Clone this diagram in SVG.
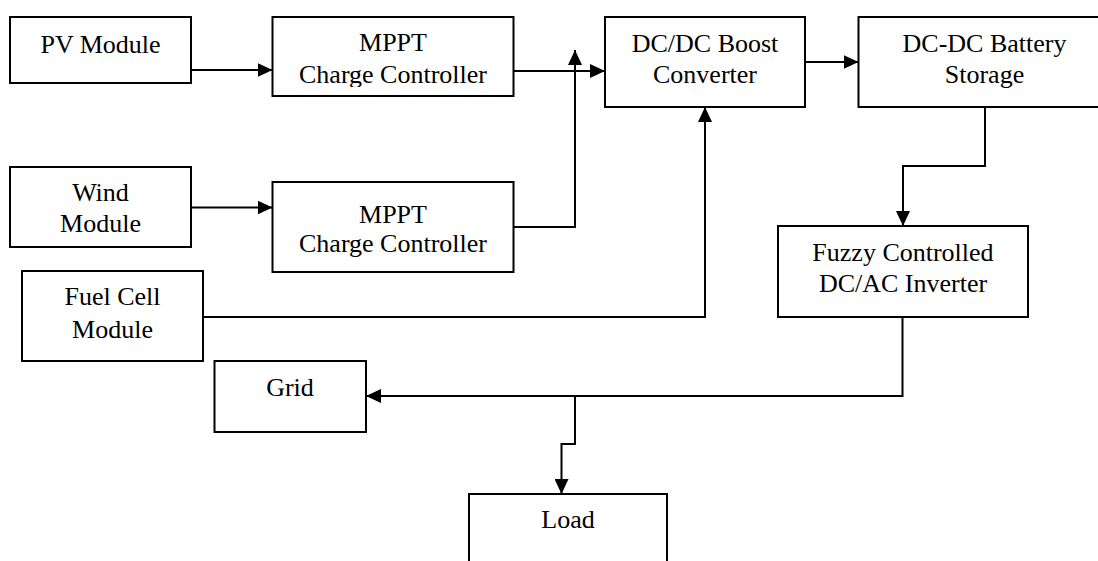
<svg xmlns="http://www.w3.org/2000/svg" width="1098" height="561" viewBox="0 0 1098 561">
<style>
.box{fill:#fff;stroke:#000;stroke-width:2}
.lbl{font-family:"Liberation Serif","Times New Roman",serif;font-size:26px;fill:#000;text-anchor:middle}
.con{fill:none;stroke:#000;stroke-width:2}
</style>
<defs>
<marker id="ah" markerUnits="userSpaceOnUse" markerWidth="15" markerHeight="14" refX="15" refY="7" orient="auto" viewBox="0 0 15 14">
<path d="M0,0 L15,7 L0,14 z" fill="#000"/>
</marker>
<clipPath id="clipM1"><rect x="272" y="17" width="242" height="70"/></clipPath>
</defs>
<rect x="0" y="0" width="1098" height="561" fill="#fff"/>
<g id="connectors">
<path class="con" d="M191,70 H272.5" marker-end="url(#ah)"/>
<path class="con" d="M191,207.5 H272.5" marker-end="url(#ah)"/>
<path class="con" d="M513.5,71 H605" marker-end="url(#ah)"/>
<path class="con" d="M513.5,227 H575 V50" marker-end="url(#ah)"/>
<path class="con" d="M203,317 H705 V107" marker-end="url(#ah)"/>
<path class="con" d="M805,62 H858.5" marker-end="url(#ah)"/>
<path class="con" d="M985,107 V166 H903 V226" marker-end="url(#ah)"/>
<path class="con" d="M902.5,317 V396 H366" marker-end="url(#ah)"/>
<path class="con" d="M575,396 V444 H561.5 V494" marker-end="url(#ah)"/>
</g>
<g id="pv">
<rect class="box" x="10" y="17" width="181" height="66"/>
<text class="lbl" x="100.5" y="52.5">PV Module</text>
</g>
<g id="mppt1">
<rect class="box" x="272.5" y="17" width="241" height="79"/>
<g clip-path="url(#clipM1)">
<text class="lbl" x="393" y="51">MPPT</text>
<text class="lbl" x="393" y="83">Charge Controller</text>
</g>
</g>
<g id="wind">
<rect class="box" x="10" y="167" width="181" height="80"/>
<text class="lbl" x="100.5" y="201">Wind</text>
<text class="lbl" x="100.5" y="231.5">Module</text>
</g>
<g id="mppt2">
<rect class="box" x="272.5" y="182" width="241" height="90"/>
<text class="lbl" x="393" y="223">MPPT</text>
<text class="lbl" x="393" y="252">Charge Controller</text>
</g>
<g id="fuel">
<rect class="box" x="22" y="271" width="181" height="90"/>
<text class="lbl" x="112.5" y="305">Fuel Cell</text>
<text class="lbl" x="112.5" y="338">Module</text>
</g>
<g id="boost">
<rect class="box" x="605" y="17" width="200" height="90"/>
<text class="lbl" x="705" y="51.5">DC/DC Boost</text>
<text class="lbl" x="705" y="83">Converter</text>
</g>
<g id="battery">
<rect class="box" x="858.5" y="17" width="252" height="90"/>
<text class="lbl" x="984.5" y="51.5">DC-DC Battery</text>
<text class="lbl" x="984.5" y="83">Storage</text>
</g>
<g id="fuzzy">
<rect class="box" x="778" y="226" width="250" height="91"/>
<text class="lbl" x="903" y="261">Fuzzy Controlled</text>
<text class="lbl" x="903" y="292">DC/AC Inverter</text>
</g>
<g id="grid">
<rect class="box" x="214.5" y="361" width="151.5" height="71"/>
<text class="lbl" x="290" y="396">Grid</text>
</g>
<g id="load">
<rect class="box" x="469" y="494" width="198" height="80"/>
<text class="lbl" x="568" y="528">Load</text>
</g>
</svg>
